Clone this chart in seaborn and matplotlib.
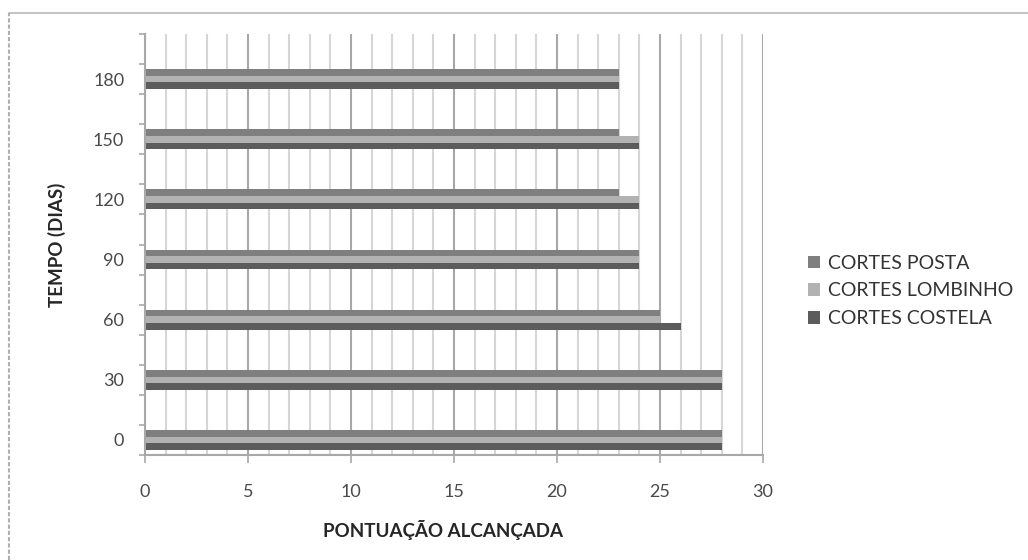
import numpy as np
import pandas as pd
import matplotlib
matplotlib.use("Agg")
import matplotlib.pyplot as plt
from matplotlib.patches import Patch
from matplotlib.lines import Line2D
from matplotlib.ticker import MultipleLocator, FixedLocator
import seaborn as sns

# Storage time (days), listed from top row to bottom row
tempo = ["180", "150", "120", "90", "60", "30", "0"]
cortes = ["CORTES POSTA", "CORTES LOMBINHO", "CORTES COSTELA"]

posta = [23, 23, 23, 24, 25, 28, 28]
lombinho = [23, 24, 24, 24, 25, 28, 28]
costela = [23, 24, 24, 24, 26, 28, 28]

cores = ["#7f7f7f", "#b2b2b2", "#5c5c5c"]

df = pd.DataFrame({
    "tempo": tempo * 3,
    "corte": [cortes[0]] * 7 + [cortes[1]] * 7 + [cortes[2]] * 7,
    "pontos": posta + lombinho + costela,
})

sns.set_theme(style="white")
plt.rcParams["font.family"] = ["Lato", "DejaVu Sans"]

W, H = 1028, 560
fig = plt.figure(figsize=(W / 100, H / 100), dpi=100)
fig.patch.set_facecolor("white")

left, right, top, bottom = 145, 763, 34, 455
ax = fig.add_axes([left / W, 1 - bottom / H, (right - left) / W, (bottom - top) / H])

sns.barplot(
    data=df, y="tempo", x="pontos", hue="corte",
    order=tempo, hue_order=cortes, palette=cores,
    orient="h", width=0.33, saturation=1, linewidth=0,
    errorbar=None, legend=False, ax=ax,
)

ax.set_axisbelow(True)
ax.set_xlim(0, 30)
ax.set_ylim(6.25, -0.75)

# x axis: major every 5, light gridline every unit
ax.xaxis.set_major_locator(MultipleLocator(5))
ax.xaxis.set_minor_locator(MultipleLocator(1))
ax.grid(which="minor", axis="x", color="#d6d6d6", linewidth=1.5)
ax.grid(which="major", axis="x", color="#a8a8a8", linewidth=1.5)
ax.grid(axis="y", visible=False)

# y axis: small ticks every half category
ax.yaxis.set_minor_locator(FixedLocator(np.arange(-0.75, 6.26, 0.5)))

grey_axis = "#a8a8a8"
tick_txt = "#4a4a4a"
ax.tick_params(axis="x", which="major", length=6, width=1.2, color=grey_axis,
               direction="out", pad=15, labelsize=13, labelcolor=tick_txt,
               bottom=True)
ax.tick_params(axis="x", which="minor", length=0)
ax.tick_params(axis="y", which="major", length=0, pad=15, labelsize=13,
               labelcolor=tick_txt)
ax.tick_params(axis="y", which="minor", length=4, width=1.2, color=grey_axis,
               direction="out", left=True)

for s in ["top", "right"]:
    ax.spines[s].set_visible(False)
for s in ["left", "bottom"]:
    ax.spines[s].set_color(grey_axis)
    ax.spines[s].set_linewidth(1.5)

ax.set_xlabel("")
ax.set_ylabel("")

fig.text(443 / W, 1 - 530 / H, "PONTUAÇÃO ALCANÇADA", ha="center", va="center",
         fontsize=13.5, fontweight="bold", color="#262626")
fig.text(57 / W, 1 - 245 / H, "TEMPO (DIAS)", ha="center", va="center",
         rotation=90, fontsize=13.5, fontweight="bold", color="#262626")

handles = [Patch(facecolor=c, edgecolor="none", label=l) for c, l in zip(cores, cortes)]
fig.legend(handles=handles, loc="center left", bbox_to_anchor=(808 / W, 1 - 291 / H),
           frameon=False, fontsize=14, handlelength=0.6, handleheight=0.6,
           handletextpad=0.45, labelspacing=0.55, labelcolor="#333333",
           borderaxespad=0, borderpad=0)

# chart frame lines (top and left)
fig.add_artist(Line2D([9 / W, 1], [1 - 13 / H, 1 - 13 / H], transform=fig.transFigure,
                      color="#c4c4c4", linewidth=1.5))
fig.add_artist(Line2D([9 / W, 9 / W], [0, 1 - 13 / H], transform=fig.transFigure,
                      color="#b0b0b0", linewidth=1.5, linestyle=(0, (2, 1))))

fig.savefig("out.png", dpi=100, facecolor="white")
